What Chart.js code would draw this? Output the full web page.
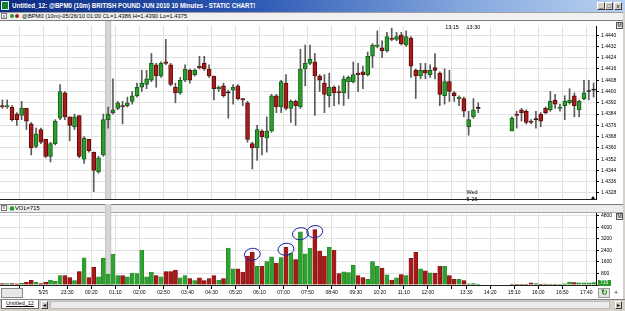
<!DOCTYPE html>
<html>
<head>
<meta charset="utf-8">
<title>@BPM0 (10m) British Pound</title>
<script src="https://cdn.jsdelivr.net/npm/chart.js@4.4.1/dist/chart.umd.min.js"></script>
<style>
  html, body { margin: 0; padding: 0; }
  body { width: 625px; height: 311px; position: relative; overflow: hidden; background: #fff; font-family: "Liberation Sans", Arial, sans-serif; }
  .abs { position: absolute; }
  #title { left: 0; top: 0; width: 625px; height: 12px; background: linear-gradient(to right, #0c2b80 0%, #2c58b4 40%, #86a9de 75%, #b9d1f1 100%); }
  #titleIco { left: 1px; top: 1px; width: 8px; height: 9px; background: #1f7a2a; border: 1px solid #cfe; box-sizing: border-box; }
  #titleText { left: 12px; top: 1px; color: #fff; font-weight: bold; font-size: 7.5px; line-height: 10px; white-space: nowrap; transform: scaleX(0.82); transform-origin: 0 0; }
  .wbtn { top: 2px; width: 8px; height: 8px; background: #d4d0c8; border: 1px solid; border-color: #fff #404040 #404040 #fff; box-sizing: border-box; font-size: 6px; line-height: 6px; text-align: center; color: #000; }
  #info { left: 0; top: 12px; width: 623px; height: 7px; background: #f1f1f1; border-top: 1px solid #9c9c9c; border-bottom: 1px solid #7c7c7c; }
  .xbox { width: 6px; height: 6px; border: 1px solid #777; box-sizing: border-box; font-size: 5px; line-height: 4px; text-align: center; color: #333; background: #fff; }
  .dot { width: 4px; height: 4px; border-radius: 50%; }
  #infoText { left: 22px; top: 0; font-size: 5.8px; line-height: 7px; white-space: nowrap; color: #000; }
  .mbox { width: 7px; height: 7px; border: 1px solid #555; box-sizing: border-box; background: #eee; font-size: 5px; line-height: 5px; text-align: center; color: #000; }
  #frame { left: 623px; top: 12px; width: 2px; height: 288px; background: #d4d0c8; }
  #bottom { left: 0; top: 299px; width: 625px; height: 12px; background: #d4d0c8; border-top: 1px solid #808080; box-sizing: border-box; }
  #tab { left: 1px; top: 0; width: 38px; height: 9px; background: #fff; border: 1px solid #707070; border-top: none; box-sizing: border-box; font-size: 5.5px; line-height: 7px; text-align: center; text-decoration: underline; }
  .sbtn { top: 1px; width: 7px; height: 8px; background: #d4d0c8; border: 1px solid; border-color: #fff #404040 #404040 #fff; box-sizing: border-box; font-size: 5px; line-height: 6px; text-align: center; }
  #thumb { left: 50px; top: 1px; width: 560px; height: 8px; background: #ebebeb; border: 1px solid #bbb; box-sizing: border-box; }
  #scrollBox { left: 1px; top: 288px; width: 22px; height: 10px; background: #e8e8e8; border: 1px solid #888; box-sizing: border-box; }
  #refresh { left: 598px; top: 288px; width: 12px; height: 10px; background: #e4e4e4; border: 1px solid #999; box-sizing: border-box; color: #1d8a1d; font-size: 8px; line-height: 8px; text-align: center; font-weight: bold; }
  #plus { left: 614px; top: 289px; font-size: 7px; color: #333; }
</style>
</head>
<body>
<div id="title" class="abs">
  <div id="titleIco" class="abs"></div>
  <div id="titleText" class="abs">Untitled_12: @BPM0 (10m) BRITISH POUND JUN 2010 10 Minutes - STATIC CHART!</div>
  <div class="abs wbtn" style="left:597px">_</div>
  <div class="abs wbtn" style="left:605px">□</div>
  <div class="abs wbtn" style="left:614px">x</div>
</div>
<div id="info" class="abs">
  <div class="abs xbox" style="left:1px;top:0">x</div>
  <div class="abs dot" style="left:10px;top:1px;background:#1e9a1e"></div>
  <div class="abs dot" style="left:15px;top:1px;background:#b01818"></div>
  <div id="infoText" class="abs">@BPM0 (10m)-05/26/10 01:00 CL=1.4386 H=1.4390 Lo=1.4375</div>
</div>

<canvas id="price" class="abs" width="625" height="183" style="left:0;top:21px"></canvas>
<canvas id="volume" class="abs" width="625" height="95" style="left:0;top:204px"></canvas>

<div class="abs mbox" style="left:616px;top:22px">M</div>
<div class="abs mbox" style="left:616px;top:213px">M</div>
<div id="scrollBox" class="abs"></div>
<div id="refresh" class="abs">↻</div>
<div id="plus" class="abs">+</div>
<div id="frame" class="abs"></div>
<div id="bottom" class="abs">
  <div id="tab" class="abs">Untitled_12</div>
  <div class="abs sbtn" style="left:41px">◄</div>
  <div id="thumb" class="abs"></div>
  <div class="abs sbtn" style="left:615px">►</div>
</div>

<script>
// 10 minute bars
const times = [
  "21:10","21:20","21:30","21:40","21:50","22:00","22:10","22:20","22:30","22:40",
  "22:50","23:00","23:10","23:20","23:30","23:40","23:50","00:00","00:10","00:20",
  "00:30","00:40","00:50","01:00","01:10","01:20","01:30","01:40","01:50","02:00",
  "02:10","02:20","02:30","02:40","02:50","03:00","03:10","03:20","03:30","03:40",
  "03:50","04:00","04:10","04:20","04:30","04:40","04:50","05:00","05:10","05:20",
  "05:30","05:40","05:50","06:00","06:10","06:20","06:30","06:40","06:50","07:00",
  "07:10","07:20","07:30","07:40","07:50","08:00","08:10","08:20","08:30","08:40",
  "08:50","09:00","09:10","09:20","09:30","09:40","09:50","10:00","10:10","10:20",
  "10:30","10:40","10:50","11:00","11:10","11:20","11:30","11:40","11:50","12:00",
  "12:10","12:20","12:30","12:40","12:50","13:00","13:15","13:30","13:40","13:50",
  "14:00","14:10","14:20","14:30","14:40","14:50","15:00","15:10","15:20","15:30",
  "15:40","15:50","16:00","16:10","16:20","16:30","16:40","16:50","17:00","17:10",
  "17:20","17:30","17:40","17:50"
];

const opens = [
  1.4390,1.4389,1.4389,1.4384,1.4383,1.4388,1.4377,1.4361,1.4373,1.4366,
  1.4354,1.4363,1.4381,1.4399,1.4382,1.4375,1.4383,1.4352,1.4366,1.4357,
  1.4343,1.4355,1.4380,1.4385,1.4388,1.4390,1.4390,1.4393,1.4397,1.4403,
  1.4405,1.4408,1.4419,1.4411,1.4421,1.4419,1.4403,1.4399,1.4408,1.4415,
  1.4412,1.4418,1.4420,1.4416,1.4411,1.4402,1.4404,1.4399,1.4401,1.4404,
  1.4395,1.4392,1.4363,1.4360,1.4372,1.4367,1.4372,1.4397,1.4389,1.4406,
  1.4388,1.4393,1.4389,1.4416,1.4420,1.4421,1.4411,1.4406,1.4397,1.4403,
  1.4400,1.4399,1.4407,1.4407,1.4413,1.4414,1.4412,1.4425,1.4432,1.4431,
  1.4429,1.4438,1.4437,1.4440,1.4433,1.4438,1.4415,1.4411,1.4415,1.4412,
  1.4417,1.4413,1.4397,1.4407,1.4399,1.4395,1.4395,1.4375,1.4382,1.4388,
  null,null,null,null,null,null,1.4372,1.4384,1.4387,1.4386,
  1.4379,1.4380,1.4384,1.4388,1.4387,1.4394,1.4388,1.4390,1.4392,1.4397,
  1.4387,1.4395,1.4400,1.4401
];
const highs = [
  1.4394,1.4394,1.4390,1.4385,1.4393,1.4388,1.4378,1.4374,1.4374,1.4366,
  1.4364,1.4380,1.4405,1.4400,1.4382,1.4384,1.4383,1.4368,1.4366,1.4357,
  1.4354,1.4384,1.4389,1.4409,1.4393,1.4393,1.4396,1.4400,1.4406,1.4415,
  1.4415,1.4427,1.4420,1.4421,1.4437,1.4420,1.4406,1.4410,1.4419,1.4416,
  1.4416,1.4425,1.4425,1.4419,1.4411,1.4404,1.4406,1.4401,1.4405,1.4405,
  1.4395,1.4393,1.4364,1.4376,1.4373,1.4382,1.4398,1.4398,1.4408,1.4412,
  1.4394,1.4394,1.4430,1.4433,1.4433,1.4427,1.4412,1.4412,1.4413,1.4404,
  1.4404,1.4411,1.4411,1.4421,1.4420,1.4418,1.4428,1.4434,1.4443,1.4436,
  1.4442,1.4445,1.4442,1.4442,1.4443,1.4439,1.4416,1.4420,1.4420,1.4419,
  1.4427,1.4414,1.4416,1.4415,1.4400,1.4397,1.4396,1.4386,1.4395,1.4392,
  null,null,null,null,null,null,1.4382,1.4386,1.4388,1.4387,
  1.4380,1.4386,1.4385,1.4389,1.4400,1.4398,1.4391,1.4397,1.4402,1.4399,
  1.4394,1.4408,1.4408,1.4406
];
const lows = [
  1.4388,1.4388,1.4379,1.4376,1.4380,1.4373,1.4355,1.4360,1.4363,1.4353,
  1.4350,1.4362,1.4380,1.4380,1.4365,1.4373,1.4353,1.4349,1.4357,1.4329,
  1.4342,1.4354,1.4374,1.4384,1.4387,1.4377,1.4389,1.4391,1.4396,1.4400,
  1.4402,1.4407,1.4403,1.4410,1.4419,1.4404,1.4392,1.4398,1.4407,1.4406,
  1.4411,1.4416,1.4415,1.4410,1.4394,1.4400,1.4396,1.4381,1.4391,1.4394,
  1.4390,1.4364,1.4345,1.4351,1.4355,1.4357,1.4371,1.4385,1.4385,1.4387,
  1.4378,1.4376,1.4388,1.4404,1.4419,1.4383,1.4400,1.4385,1.4389,1.4390,
  1.4391,1.4390,1.4395,1.4406,1.4400,1.4402,1.4411,1.4417,1.4431,1.4424,
  1.4428,1.4436,1.4436,1.4433,1.4432,1.4410,1.4395,1.4409,1.4409,1.4410,
  1.4409,1.4390,1.4391,1.4393,1.4393,1.4390,1.4382,1.4369,1.4381,1.4385,
  null,null,null,null,null,null,1.4372,1.4374,1.4379,1.4377,
  1.4377,1.4374,1.4375,1.4384,1.4386,1.4388,1.4386,1.4380,1.4391,1.4382,
  1.4382,1.4394,1.4394,1.4396
];
const closes = [
  1.4389,1.4390,1.4380,1.4380,1.4388,1.4379,1.4360,1.4370,1.4364,1.4354,
  1.4363,1.4379,1.4400,1.4382,1.4376,1.4382,1.4354,1.4367,1.4358,1.4344,
  1.4353,1.4380,1.4384,1.4387,1.4392,1.4389,1.4392,1.4397,1.4403,1.4406,
  1.4409,1.4420,1.4411,1.4420,1.4420,1.4405,1.4399,1.4408,1.4416,1.4408,
  1.4415,1.4417,1.4416,1.4411,1.4402,1.4403,1.4397,1.4399,1.4403,1.4395,
  1.4394,1.4366,1.4360,1.4373,1.4368,1.4372,1.4397,1.4389,1.4407,1.4388,
  1.4393,1.4390,1.4416,1.4420,1.4423,1.4411,1.4408,1.4398,1.4403,1.4399,
  1.4399,1.4409,1.4410,1.4412,1.4412,1.4412,1.4425,1.4433,1.4433,1.4429,
  1.4439,1.4437,1.4439,1.4434,1.4439,1.4418,1.4411,1.4415,1.4413,1.4415,
  1.4415,1.4398,1.4407,1.4400,1.4397,1.4396,1.4386,1.4380,1.4387,1.4388,
  null,null,null,null,null,null,1.4381,1.4383,1.4385,1.4378,
  1.4378,1.4380,1.4379,1.4385,1.4393,1.4391,1.4389,1.4393,1.4394,1.4390,
  1.4393,1.4399,1.4400,1.4401
];
const volumes = [
  100,100,100,80,120,190,330,190,100,190,
  350,260,660,660,520,310,940,1890,520,1230,
  570,1860,750,2150,660,660,570,830,800,2430,
  570,900,660,570,940,940,1040,500,660,450,
  310,500,310,450,660,350,450,2570,1130,1130,
  900,2010,2270,1300,1300,1630,1960,1530,1910,2620,
  2220,1770,3700,2170,2570,3850,2340,2010,2620,2430,
  800,920,870,1370,660,520,400,1630,1300,1160,
  710,350,500,730,660,1860,2270,1130,990,850,
  830,1320,1300,660,400,400,310,80,90,70,
  null,null,null,null,null,null,60,50,40,40,
  150,90,60,70,60,40,50,80,200,160,
  150,150,150,160
];

// axis ticks
const priceTicks = [1.4328,1.4336,1.4344,1.4352,1.4360,1.4368,1.4376,1.4384,1.4392,1.4400,1.4408,1.4416,1.4424,1.4432,1.4440];
const volumeTicks = [0,800,1600,2400,3200,4000,4800];
const tickIdx = [4,9,14,19,24,29,34,39,44,49,54,59,64,69,74,79,84,89,94,97,102,107,112,117,122];
const tickText = ["","5/25","23:30","00:20","01:10","02:00","02:50","03:40","04:30","05:20","06:10","07:00","07:50","08:40","09:30","10:20","11:10","12:00","","13:30","14:20","15:10","16:00","16:50","17:40"];
const cursorIdx = 22;
// hand drawn circles on the volume pane
const circledBars = [52, 59, 62, 65];

const GREEN = "#2c9c2c", GREEN_EDGE = "#17611a", RED = "#a91b1b", RED_EDGE = "#5e0d0d";
const GRID = "#e2e2e2";
const FONT = { family: "Liberation Sans", size: 5 };

const bodies = opens.map((o, i) => o === null ? null : [Math.min(o, closes[i]), Math.max(o, closes[i])]);
const wicks = lows.map((l, i) => l === null ? null : [l, highs[i]]);
const bodyFill = opens.map((o, i) => closes[i] > o ? GREEN : closes[i] < o ? RED : "#111");
const bodyEdge = opens.map((o, i) => closes[i] > o ? GREEN_EDGE : closes[i] < o ? RED_EDGE : "#111");
const volFill = opens.map((o, i) => closes[i] >= o ? "#2ea22e" : "#a81818");
const volEdge = opens.map((o, i) => closes[i] >= o ? "#1f7a1f" : "#6e1010");

function xGridColor(ctx) {
    return tickIdx.includes(ctx.index) ? GRID : "rgba(0,0,0,0)";
}

function xGridTick(ctx) {
    return tickIdx.includes(ctx.index) ? "#000" : "rgba(0,0,0,0)";
}

function drawCursor(chart) {
    const { ctx, chartArea, scales } = chart;
    const x = scales.x.getPixelForValue(cursorIdx);
    ctx.save();
    ctx.fillStyle = "#d6d6d6";
    ctx.fillRect(x - 3, 0, 6, chartArea.bottom);
    ctx.fillStyle = "#c4c4c4";
    ctx.fillRect(x - 3, 0, 1, chartArea.bottom);
    ctx.fillRect(x + 2, 0, 1, chartArea.bottom);
    ctx.restore();
}

const priceOverlay = {
    id: "priceOverlay",
    beforeDatasetsDraw(chart) {
        drawCursor(chart);
    },
    afterDraw(chart) {
        const { ctx, scales, chartArea } = chart;
        ctx.save();
        ctx.fillStyle = "#000";
        ctx.font = "5.5px 'Liberation Sans'";
        ctx.textAlign = "center";
        ctx.textBaseline = "middle";
        ctx.fillText("13:15", scales.x.getPixelForValue(93.55), 6);
        ctx.fillText("13:30", scales.x.getPixelForValue(98), 6);
        ctx.fillText("Wed", scales.x.getPixelForValue(97.7), 171);
        ctx.fillText("5-26", scales.x.getPixelForValue(97.7), 178);
        // small marker at the bottom right
        ctx.beginPath();
        ctx.moveTo(chartArea.right - 5, chartArea.bottom);
        ctx.lineTo(chartArea.right - 3, chartArea.bottom - 3);
        ctx.lineTo(chartArea.right - 1, chartArea.bottom);
        ctx.fill();
        ctx.restore();
    }
};

const volumeOverlay = {
    id: "volumeOverlay",
    beforeDraw(chart) {
        const { ctx, width } = chart;
        ctx.save();
        ctx.fillStyle = "#ececec";
        ctx.fillRect(0, 0, width, 8);
        ctx.fillStyle = "#7a7a7a";
        ctx.fillRect(0, 0, width, 1);
        ctx.fillStyle = "#a8a8a8";
        ctx.fillRect(0, 8, width, 1);
        ctx.restore();
    },
    beforeDatasetsDraw(chart) {
        drawCursor(chart);
        const { ctx } = chart;
        ctx.save();
        // VOL strip labels
        ctx.strokeStyle = "#777";
        ctx.fillStyle = "#fff";
        ctx.fillRect(1.5, 1.5, 5, 5);
        ctx.strokeRect(1.5, 1.5, 5, 5);
        ctx.fillStyle = "#333";
        ctx.font = "5px 'Liberation Sans'";
        ctx.textBaseline = "middle";
        ctx.fillText("x", 2.6, 4);
        ctx.fillStyle = "#1e9a1e";
        ctx.beginPath();
        ctx.arc(12, 4.5, 2.2, 0, Math.PI * 2);
        ctx.fill();
        ctx.fillStyle = "#000";
        ctx.font = "5.8px 'Liberation Sans'";
        ctx.fillText("VOL=715", 15, 4.8);
        ctx.restore();
    },
    afterDraw(chart) {
        const { ctx, chartArea, scales } = chart;
        ctx.save();
        // hand drawn ellipses round the volume spikes
        ctx.strokeStyle = "#2020a0";
        ctx.lineWidth = 1;
        circledBars.forEach(i => {
            const x = scales.x.getPixelForValue(i);
            const y = scales.y.getPixelForValue(volumes[i]);
            ctx.beginPath();
            ctx.ellipse(x, y + 2, 8, 6, -0.15, 0, Math.PI * 2);
            ctx.stroke();
        });
        ctx.fillStyle = "#2a9a2a";
        ctx.fillRect(chartArea.right + 2, chartArea.bottom - 5, 13, 6);
        ctx.fillStyle = "#fff";
        ctx.font = "5px 'Liberation Sans'";
        ctx.textBaseline = "middle";
        ctx.fillText("715", chartArea.right + 4, chartArea.bottom - 2);
        ctx.restore();
    }
};

function priceChart() {
    new Chart(document.getElementById("price"), {
        type: "bar",
        data: {
            labels: times,
            datasets: [
                {
                    label: "Body",
                    data: bodies,
                    grouped: false,
                    barThickness: 4,
                    minBarLength: 1,
                    backgroundColor: bodyFill,
                    borderColor: bodyEdge,
                    borderWidth: 1,
                    borderSkipped: false,
                    order: 1
                },
                {
                    label: "Range",
                    data: wicks,
                    grouped: false,
                    barThickness: 1,
                    backgroundColor: "#5a5a5a",
                    order: 2
                }
            ]
        },
        options: {
            responsive: false,
            animation: false,
            layout: { padding: { top: 0, bottom: 1, left: 0, right: 0 } },
            plugins: { legend: { display: false }, tooltip: { enabled: false } },
            scales: {
                x: {
                    offset: true,
                    grid: { offset: true, color: xGridColor, drawTicks: false },
                    ticks: { display: false, autoSkip: false },
                    border: { color: "#222" },
                    afterFit: s => { s.height = 0; }
                },
                y: {
                    position: "right",
                    min: 1.43237,
                    max: 1.44465,
                    afterBuildTicks: s => { s.ticks = priceTicks.map(v => ({ value: v })); },
                    afterFit: s => { s.width = 29; },
                    ticks: { font: FONT, color: "#000", padding: 2, callback: v => v.toFixed(4) },
                    grid: { color: GRID, tickColor: "#000", tickLength: 3 },
                    border: { color: "#000" }
                }
            }
        },
        plugins: [priceOverlay]
    });
}

function volumeChart() {
    new Chart(document.getElementById("volume"), {
        type: "bar",
        data: {
            labels: times,
            datasets: [{
                label: "Volume",
                data: volumes,
                barThickness: 4,
                backgroundColor: volFill,
                borderColor: volEdge,
                borderWidth: { left: 0.5, right: 0.5, top: 0.5, bottom: 0 },
                borderSkipped: false
            }]
        },
        options: {
            responsive: false,
            animation: false,
            layout: { padding: { top: 9, bottom: 0, left: 0, right: 0 } },
            plugins: { legend: { display: false }, tooltip: { enabled: false } },
            scales: {
                x: {
                    offset: true,
                    grid: { offset: true, color: xGridColor, tickColor: xGridTick, tickLength: 4 },
                    ticks: {
                        autoSkip: false, maxRotation: 0, minRotation: 0, font: FONT, color: "#000",
                        padding: 1, labelOffset: -2.4,
                        callback: (v, i) => { const k = tickIdx.indexOf(i); return k < 0 ? "" : tickText[k]; }
                    },
                    border: { color: "#222" },
                    afterFit: s => { s.height = 14; }
                },
                y: {
                    position: "right",
                    min: 0,
                    max: 5000,
                    afterBuildTicks: s => { s.ticks = volumeTicks.map(v => ({ value: v })); },
                    afterFit: s => { s.width = 29; },
                    ticks: { font: FONT, color: "#000", padding: 2, callback: v => v === 0 ? "" : String(v) },
                    grid: { color: GRID, tickColor: "#000", tickLength: 3 },
                    border: { color: "#000" }
                }
            }
        },
        plugins: [volumeOverlay]
    });
}

document.addEventListener("DOMContentLoaded", () => {
    priceChart();
    volumeChart();
});
</script>
</body>
</html>
